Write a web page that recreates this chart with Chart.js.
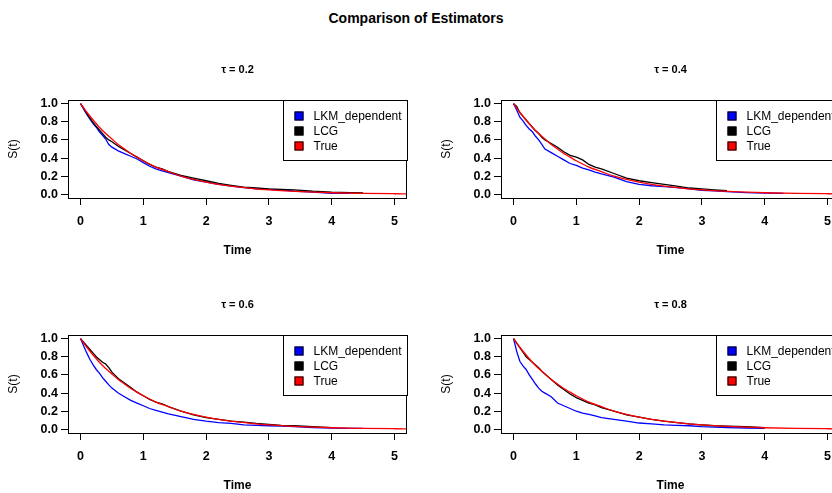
<!DOCTYPE html>
<html>
<head>
<meta charset="utf-8">
<script src="https://cdn.jsdelivr.net/npm/chart.js@4.4.1/dist/chart.umd.min.js"></script>
<style>
  html, body { margin: 0; padding: 0; background: #fff; overflow: hidden; }
  #page { position: relative; width: 832px; height: 493px; overflow: hidden; background: #fff;
          font-family: "Liberation Sans", Arial, sans-serif; }
  #main { position: absolute; left: 0; top: 10px; width: 832px; line-height: 16px;
          text-align: center; font-weight: bold; font-size: 14px; color: #000; }
  canvas { position: absolute; }
</style>
</head>
<body>
<div id="page">
  <div id="main">Comparison of Estimators</div>
  <canvas id="p1" width="416" height="200" style="left:0;top:60px"></canvas>
  <canvas id="p2" width="416" height="200" style="left:433px;top:60px"></canvas>
  <canvas id="p3" width="416" height="200" style="left:0;top:295px"></canvas>
  <canvas id="p4" width="416" height="200" style="left:433px;top:295px"></canvas>
</div>
<script>
// time grid used by the estimated curves
const kmTimes = [0, 0.05, 0.1, 0.15, 0.2, 0.25, 0.3, 0.35, 0.4, 0.45, 0.5, 0.6, 0.7, 0.8, 0.9, 1.0,
  1.1, 1.2, 1.3, 1.4, 1.6, 1.8, 2.0, 2.2, 2.4, 2.6, 2.8, 3.0, 3.2, 3.4, 3.7, 4.0, 4.3, 4.5]
const trueTimes = [0, 0.1, 0.2, 0.3, 0.4, 0.5, 0.6, 0.7, 0.8, 0.9, 1.0, 1.2, 1.4, 1.6, 1.8, 2.0,
  2.25, 2.5, 2.75, 3.0, 3.5, 4.0, 4.5, 5.0, 5.2]
const trueSurv = [1, 0.905, 0.82, 0.74, 0.67, 0.61, 0.55, 0.50, 0.45, 0.41, 0.37, 0.30, 0.25, 0.20,
  0.165, 0.135, 0.105, 0.082, 0.064, 0.05, 0.03, 0.018, 0.011, 0.007, 0.006]

const tauLabels = ["τ = 0.2", "τ = 0.4", "τ = 0.6", "τ = 0.8"]

const lkm02 = [1, .94, .88, .83, .78, .74, .69, .65, .61, .55, .52, .48, .45, .42, .39, .35, .31, .28,
  .26, .24, .20, .16, .135, .11, .09, .075, .06, .055, .05, .035, .025, .01, .01]
const lcg02 = [1, .95, .89, .84, .79, .75, .71, .67, .63, .60, .58, .53, .49, .45, .41, .37, .33, .30,
  .28, .25, .21, .18, .15, .12, .10, .08, .07, .06, .055, .05, .035, .025, .02, .015]

const lkm04 = [1, .93, .85, .81, .76, .72, .69, .64, .60, .55, .50, .46, .42, .38, .34, .32, .29, .27,
  .245, .225, .19, .14, .11, .095, .085, .075, .06, .045, .04, .03, .02, .015, .01]
const lcg04 = [1, .97, .90, .86, .82, .78, .74, .70, .67, .63, .60, .56, .52, .47, .43, .41, .38, .33,
  .30, .28, .23, .18, .15, .13, .11, .09, .07, .06, .05, .04]

const lkm06 = [1, .92, .84, .77, .71, .66, .62, .57, .53, .49, .455, .40, .36, .32, .29, .26, .23, .21,
  .19, .17, .14, .11, .09, .075, .065, .05, .045, .04, .035, .03, .02, .015, .01, .01]
const lcg06 = [1, .96, .92, .88, .84, .80, .77, .74, .72, .68, .63, .56, .51, .46, .41, .37, .33, .30,
  .28, .25, .20, .16, .13, .11, .09, .08, .065, .055, .045, .04, .03, .02]

const lkm08 = [1, .86, .75, .70, .66, .60, .55, .50, .455, .42, .40, .36, .29, .26, .23, .20, .18, .165,
  .15, .13, .11, .09, .07, .06, .05, .045, .04, .03, .025, .02, .015, .01]
const lcg08 = [1, .95, .90, .85, .80, .77, .74, .71, .68, .64, .61, .55, .49, .44, .39, .35, .32, .29,
  .27, .24, .20, .16, .135, .11, .09, .075, .06, .05, .04, .035, .03, .02]

const xTicks = [0, 1, 2, 3, 4, 5]
const yTicks = [0, 0.2, 0.4, 0.6, 0.8, 1.0]
const legendNames = ["LKM_dependent", "LCG", "True"]
const legendColors = ["#0000ff", "#000000", "#ff0000"]

const FONT = '"Liberation Sans", Arial, sans-serif'

function toPoints(times, values) {
  return values.map((v, i) => ({ x: times[i], y: v }))
}

// box, panel title, axis titles and the legend, drawn the way base R does
const rPanel = {
  id: 'rPanel',
  afterDraw(chart, args, opts) {
    const ctx = chart.ctx
    const a = chart.chartArea
    const cx = (a.left + a.right) / 2
    ctx.save()
    ctx.strokeStyle = '#000'
    ctx.lineWidth = 1
    ctx.strokeRect(Math.round(a.left) + 0.5, Math.round(a.top) + 0.5,
      Math.round(a.width) - 1, Math.round(a.height))

    ctx.fillStyle = '#000'
    ctx.textAlign = 'center'
    ctx.textBaseline = 'middle'
    ctx.font = 'bold 11px ' + FONT
    ctx.fillText(opts.title, cx, a.top - 30)
    ctx.font = 'bold 12px ' + FONT
    ctx.fillText('Time', cx, a.bottom + 53)
    ctx.save()
    ctx.translate(14, (a.top + a.bottom) / 2)
    ctx.rotate(-Math.PI / 2)
    ctx.font = '12px ' + FONT
    ctx.fillText('S(t)', 0, 0)
    ctx.restore()

    // legend, top right
    const lw = 124, lh = 60
    const lx = Math.round(a.right - lw) + 0.5, ly = Math.round(a.top) + 0.5
    ctx.fillStyle = '#fff'
    ctx.fillRect(lx, ly, lw, lh)
    ctx.strokeRect(lx, ly, lw, lh)
    ctx.font = '12px ' + FONT
    ctx.textAlign = 'left'
    legendNames.forEach((name, i) => {
      const y = ly + 15.5 + i * 15
      ctx.fillStyle = legendColors[i]
      ctx.fillRect(lx + 11, y - 4.5, 9, 9)
      ctx.strokeStyle = '#000'
      ctx.strokeRect(lx + 11.5, y - 4, 8, 8)
      ctx.fillStyle = '#000'
      ctx.fillText(name, lx + 30, y + 0.5)
    })
    ctx.restore()
  }
}

function makePanel(canvasId, title, lkm, lcg) {
  const canvas = document.getElementById(canvasId)
  return new Chart(canvas, {
    type: 'line',
    data: {
      datasets: [
        { label: 'True', data: toPoints(trueTimes, trueSurv), borderColor: '#ff0000',
          cubicInterpolationMode: 'monotone', order: 0 },
        { label: 'LCG', data: toPoints(kmTimes, lcg), borderColor: '#000000', order: 1 },
        { label: 'LKM_dependent', data: toPoints(kmTimes, lkm), borderColor: '#0000ff', order: 2 }
      ]
    },
    options: {
      responsive: false,
      animation: false,
      devicePixelRatio: 1,
      events: [],
      elements: { point: { radius: 0 }, line: { borderWidth: 1.3, tension: 0 } },
      layout: { padding: { top: 40, right: 9, left: 0, bottom: 0 } },
      scales: {
        x: {
          type: 'linear', min: -0.2, max: 5.2,
          afterBuildTicks: s => { s.ticks = xTicks.map(v => ({ value: v })) },
          afterFit: s => { s.height = 62 },
          grid: { drawOnChartArea: false, tickLength: 7, tickColor: '#000' },
          border: { display: false },
          ticks: { color: '#000', padding: 9, maxRotation: 0,
            font: { family: FONT, size: 12.5, weight: 'bold' }, callback: v => String(v) }
        },
        y: {
          type: 'linear', min: -0.04, max: 1.04,
          afterBuildTicks: s => { s.ticks = yTicks.map(v => ({ value: v })) },
          afterFit: s => { s.width = 68 },
          grid: { drawOnChartArea: false, tickLength: 7, tickColor: '#000' },
          border: { display: false },
          ticks: { color: '#000', padding: 3,
            font: { family: FONT, size: 12.5, weight: 'bold' }, callback: v => v.toFixed(1) }
        }
      },
      plugins: {
        legend: { display: false },
        tooltip: { enabled: false },
        rPanel: { title: title }
      }
    },
    plugins: [rPanel]
  })
}

makePanel('p1', tauLabels[0], lkm02, lcg02)
makePanel('p2', tauLabels[1], lkm04, lcg04)
makePanel('p3', tauLabels[2], lkm06, lcg06)
makePanel('p4', tauLabels[3], lkm08, lcg08)
</script>
</body>
</html>
